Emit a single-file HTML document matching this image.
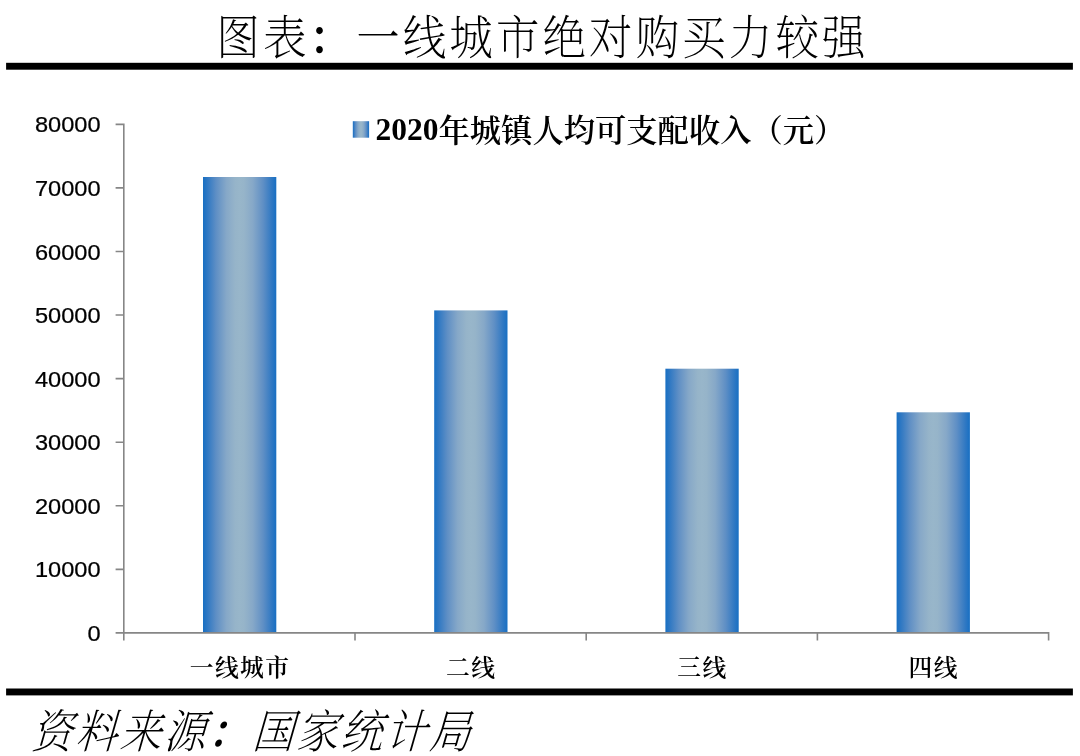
<!DOCTYPE html>
<html lang="zh-CN">
<head>
<meta charset="utf-8">
<title>图表：一线城市绝对购买力较强</title>
<style>
html,body{margin:0;padding:0;background:#fff;}
body{width:1080px;height:756px;position:relative;overflow:hidden;font-family:"Liberation Serif","Noto Serif CJK SC",serif;color:#000;}
.abs{position:absolute;white-space:nowrap;}
.title{left:0;width:1080px;text-align:center;top:8px;height:60px;line-height:60px;font-size:43.6px;letter-spacing:3px;text-indent:5px;font-weight:200;color:#000;transform:scaleY(1.07);transform-origin:50% 50%;}
.source{left:34.5px;top:703px;height:60px;line-height:60px;font-size:42px;letter-spacing:2.2px;font-weight:200;color:#000;transform:skewX(-16deg) scaleY(1.1);transform-origin:0 50%;}
.ylab{position:absolute;left:0;width:100.5px;text-align:right;font-family:"Liberation Sans",sans-serif;font-size:23.6px;height:30px;line-height:30px;color:#000;-webkit-text-stroke:0.25px #000;transform:scaleY(0.95);transform-origin:50% 50%;}
.cat{position:absolute;width:231.2px;text-align:center;top:650.5px;height:34px;line-height:34px;font-size:23.8px;letter-spacing:1.4px;text-indent:1.4px;font-weight:600;}
.legend{left:375.5px;top:110px;height:40px;line-height:40px;font-size:31.3px;font-weight:600;}
.legend .cj{position:relative;top:2px;}
.co{font-weight:600;position:relative;left:-1px;}
.legend b{font-size:31.5px;font-weight:700;}
</style>
</head>
<body>
<svg class="abs" style="left:0;top:0" width="1080" height="756" viewBox="0 0 1080 756">
<defs><linearGradient id="g" x1="0" y1="0" x2="1" y2="0"><stop offset="0" stop-color="#176fc3"/><stop offset="0.06" stop-color="#2f78c3"/><stop offset="0.18" stop-color="#5f8fc5"/><stop offset="0.32" stop-color="#86a8c8"/><stop offset="0.44" stop-color="#96b4c9"/><stop offset="0.5" stop-color="#98b6ca"/><stop offset="0.56" stop-color="#96b4c9"/><stop offset="0.68" stop-color="#86a8c8"/><stop offset="0.82" stop-color="#5f8fc5"/><stop offset="0.94" stop-color="#2f78c3"/><stop offset="1" stop-color="#176fc3"/></linearGradient></defs>
<rect x="6.1" y="62.8" width="1066.8" height="6.9" fill="#000"/>
<rect x="6.1" y="688.5" width="1066.8" height="6.9" fill="#000"/>
<rect x="203.0" y="177.0" width="73.3" height="455.9" fill="url(#g)"/>
<rect x="434.2" y="310.4" width="73.3" height="322.5" fill="url(#g)"/>
<rect x="665.4" y="368.7" width="73.3" height="264.2" fill="url(#g)"/>
<rect x="896.6" y="412.3" width="73.3" height="220.6" fill="url(#g)"/>
<path d="M123.80 123.54 V640.50 M115.60 632.90 H1049.40 M115.60 569.33 H123.80 M115.60 505.76 H123.80 M115.60 442.19 H123.80 M115.60 378.62 H123.80 M115.60 315.05 H123.80 M115.60 251.48 H123.80 M115.60 187.91 H123.80 M115.60 124.34 H123.80 M355.00 632.90 V640.50 M586.20 632.90 V640.50 M817.40 632.90 V640.50 M1048.60 632.90 V640.50" fill="none" stroke="#868686" stroke-width="1.6"/>
<rect x="352.8" y="121.2" width="16.3" height="16.5" fill="url(#g)"/>
</svg>
<div class="abs title">图表<span class="co">：</span>一线城市绝对购买力较强</div>
<div class="ylab" style="top:109.4px">80000</div>
<div class="ylab" style="top:173.0px">70000</div>
<div class="ylab" style="top:236.6px">60000</div>
<div class="ylab" style="top:300.1px">50000</div>
<div class="ylab" style="top:363.7px">40000</div>
<div class="ylab" style="top:427.3px">30000</div>
<div class="ylab" style="top:490.9px">20000</div>
<div class="ylab" style="top:554.4px">10000</div>
<div class="ylab" style="top:618.0px">0</div>
<div class="cat" style="left:123.8px">一线城市</div>
<div class="cat" style="left:355.0px">二线</div>
<div class="cat" style="left:586.2px">三线</div>
<div class="cat" style="left:817.4px">四线</div>
<div class="abs legend"><b>2020</b><span class="cj">年城镇人均可支配收入（元）</span></div>
<div class="abs source">资料来源<span class="co">：</span>国家统计局</div>
</body>
</html>
